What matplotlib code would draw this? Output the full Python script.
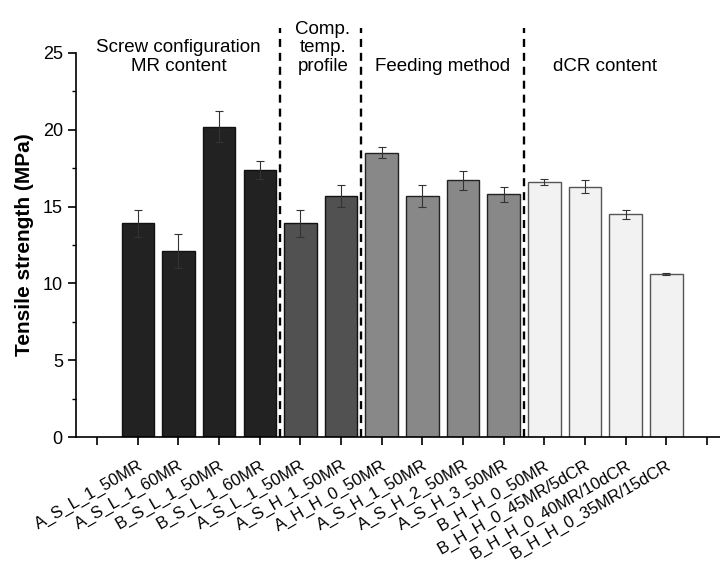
import numpy as np
import matplotlib.pyplot as plt

plt.rcParams['font.family'] = ['Liberation Sans', 'DejaVu Sans']

samples = ["A_S_L_1_50MR", "A_S_L_1_60MR", "B_S_L_1_50MR", "B_S_L_1_60MR",
           "A_S_L_1_50MR", "A_S_H_1_50MR",
           "A_H_H_0_50MR", "A_S_H_1_50MR", "A_S_H_2_50MR", "A_S_H_3_50MR",
           "B_H_H_0_50MR", "B_H_H_0_45MR/5dCR", "B_H_H_0_40MR/10dCR", "B_H_H_0_35MR/15dCR"]
strength = [13.9, 12.1, 20.2, 17.4, 13.9, 15.7, 18.5, 15.7, 16.7, 15.8, 16.6, 16.3, 14.5, 10.6]
err = [0.9, 1.1, 1.0, 0.6, 0.9, 0.7, 0.35, 0.7, 0.6, 0.5, 0.2, 0.4, 0.3, 0.06]
group = [0, 0, 0, 0, 1, 1, 2, 2, 2, 2, 3, 3, 3, 3]
group_names = ["Screw configuration\nMR content", "Comp.\ntemp.\nprofile",
               "Feeding method", "dCR content"]
group_colors = ["#222222", "#515151", "#888888", "#f2f2f2"]
group_edges = ["#111111", "#111111", "#222222", "#555555"]

fig = plt.figure(figsize=(7.2, 5.63), dpi=100)
ax = fig.add_axes([0.1056, 0.2238, 0.8944, 0.6821])

x = np.arange(1, len(samples) + 1)
ax.bar(x, strength, width=0.8,
       color=[group_colors[g] for g in group],
       edgecolor=[group_edges[g] for g in group], linewidth=1.0, zorder=2)
ax.errorbar(x, strength, yerr=err, fmt='none', ecolor='#333333',
            elinewidth=0.8, capsize=3, capthick=0.8, zorder=3)

# dashed separators between groups
for sep in [4.5, 6.5, 10.5]:
    ax.plot([sep, sep], [0, 26.6], ls=(0, (3.4, 2.5)), color='black', lw=1.7,
            clip_on=False, zorder=4)

# group labels
label_x = [2.0, 5.55, 8.5, 12.5]
for gx, name in zip(label_x, group_names):
    ax.text(gx, 23.8, name, ha='center', va='baseline', fontsize=13.5,
            linespacing=1.15, multialignment='center')

ax.set_xlim(-0.52, 15.32)
ax.set_ylim(0, 25)
ax.set_xticks(np.arange(0, 16))
ax.set_xticklabels([""] + samples + [""], rotation=30, ha='right',
                   rotation_mode='anchor')
ax.set_yticks([0, 5, 10, 15, 20, 25])
ax.set_yticks([2.5, 7.5, 12.5, 17.5, 22.5], minor=True)
ax.tick_params(axis='both', which='major', length=6, width=1.2)
ax.tick_params(axis='y', labelsize=13)
ax.tick_params(axis='x', labelsize=12, pad=9)
ax.tick_params(axis='y', which='minor', length=3, width=1.0)
for side in ['top', 'right']:
    ax.spines[side].set_visible(False)
for side in ['left', 'bottom']:
    ax.spines[side].set_linewidth(1.2)
ax.set_ylabel("Tensile strength (MPa)", fontsize=15, fontweight='bold', labelpad=6)

fig.savefig("out.png", dpi=100)
